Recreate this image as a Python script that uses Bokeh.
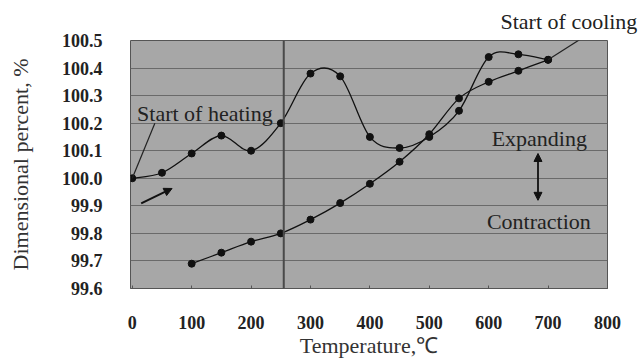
from bokeh.plotting import figure
from bokeh.models import (Range1d, FixedTicker, NumeralTickFormatter, Span, Label,
                          Arrow, NormalHead, Title)
from bokeh.embed import file_html
from bokeh.resources import INLINE

# ---- data ----
heat_temp = [0, 50, 100, 150, 200, 250, 300, 350, 400, 450, 500, 550, 600, 650, 700]
heat_pct = [100.00, 100.02, 100.09, 100.155, 100.10, 100.20, 100.38, 100.37,
            100.15, 100.11, 100.15, 100.245, 100.44, 100.45, 100.43]
cool_temp = [700, 650, 600, 550, 500, 450, 400, 350, 300, 250, 200, 150, 100]
cool_pct = [100.43, 100.39, 100.35, 100.29, 100.16, 100.06, 99.98, 99.91,
            99.85, 99.80, 99.77, 99.73, 99.69]
x_ticks = [0, 100, 200, 300, 400, 500, 600, 700, 800]
y_ticks = [99.6, 99.7, 99.8, 99.9, 100.0, 100.1, 100.2, 100.3, 100.4, 100.5]
ref_temp = 255  # vertical reference line

# annotation anchors (data units)
heat_note = ("Start of heating", 8, 100.235)
heat_leader_end = (38, 100.20)
cool_note_text = "Start of cooling"
cool_leader_end = (769, 100.525)
expand_note = ("Expanding", 605, 100.144)
contract_note = ("Contraction", 597, 99.843)
updown_x, updown_lo, updown_hi = 683, 99.92, 100.09
dir_arrow = (15, 99.909, 67, 99.963)

SERIF = "Liberation Serif"


def smooth(xs, ys):
    """Catmull-Rom style bezier segments through the data points."""
    n = len(xs)
    px = [xs[0]] + list(xs) + [xs[-1]]
    py = [ys[0]] + list(ys) + [ys[-1]]
    seg = dict(x0=[], y0=[], x1=[], y1=[], cx0=[], cy0=[], cx1=[], cy1=[])
    for i in range(n - 1):
        x_a, y_a = px[i], py[i]
        x_b, y_b = px[i + 1], py[i + 1]
        x_c, y_c = px[i + 2], py[i + 2]
        x_d, y_d = px[i + 3], py[i + 3]
        seg["x0"].append(x_b); seg["y0"].append(y_b)
        seg["x1"].append(x_c); seg["y1"].append(y_c)
        seg["cx0"].append(x_b + (x_c - x_a) / 6.0)
        seg["cy0"].append(y_b + (y_c - y_a) / 6.0)
        seg["cx1"].append(x_c - (x_d - x_b) / 6.0)
        seg["cy1"].append(y_c - (y_d - y_b) / 6.0)
    return seg


p = figure(width=644, height=363, output_backend="svg", toolbar_location=None,
           x_range=Range1d(-3, 800), y_range=Range1d(99.6, 100.5),
           min_border_left=130, min_border_right=37, min_border_top=40,
           min_border_bottom=75)

p.background_fill_color = "#a7a7a7"
p.border_fill_color = "white"
p.outline_line_color = "#555555"
p.outline_line_width = 1

p.xgrid.grid_line_color = None
p.ygrid.grid_line_color = "#6a6a6a"
p.ygrid.grid_line_width = 1

p.xaxis.ticker = FixedTicker(ticks=x_ticks)
p.yaxis.ticker = FixedTicker(ticks=y_ticks)
p.yaxis.formatter = NumeralTickFormatter(format="0.0")

for ax in (p.xaxis, p.yaxis):
    ax.major_label_text_font = SERIF
    ax.major_label_text_font_size = "18px"
    ax.major_label_text_font_style = "bold"
    ax.major_label_text_color = "#222222"
    ax.axis_label_text_font = SERIF
    ax.axis_label_text_font_size = "22px"
    ax.axis_label_text_font_style = "normal"
    ax.axis_label_text_color = "#333333"
    ax.minor_tick_line_color = None
    ax.major_tick_out = 0

p.yaxis.axis_line_color = None
p.yaxis.major_tick_line_color = None
p.yaxis.major_label_standoff = 28
p.yaxis.axis_label_standoff = 26
p.yaxis.axis_label = "Dimensional percent, %"

p.xaxis.axis_line_color = "#555555"
p.xaxis.major_tick_in = 3
p.xaxis.major_tick_line_color = "#555555"
p.xaxis.major_label_standoff = 27
p.xaxis.axis_label_standoff = 1
p.xaxis.axis_label = "Temperature,\u2103"

p.add_layout(Span(location=ref_temp, dimension="height", line_color="#4a4a4a",
                  line_width=2))

# curves
hs = smooth(heat_temp, heat_pct)
p.bezier(x0=hs["x0"], y0=hs["y0"], x1=hs["x1"], y1=hs["y1"], cx0=hs["cx0"],
         cy0=hs["cy0"], cx1=hs["cx1"], cy1=hs["cy1"], line_color="#111111",
         line_width=1.3)
cs = smooth(cool_temp, cool_pct)
p.bezier(x0=cs["x0"], y0=cs["y0"], x1=cs["x1"], y1=cs["y1"], cx0=cs["cx0"],
         cy0=cs["cy0"], cx1=cs["cx1"], cy1=cs["cy1"], line_color="#111111",
         line_width=1.3)
p.scatter(heat_temp, heat_pct, marker="circle", size=7, color="#111111")
p.scatter(cool_temp, cool_pct, marker="circle", size=7, color="#111111")

# leaders
p.add_layout(Arrow(end=None, x_start=heat_temp[0], y_start=heat_pct[0],
                   x_end=heat_leader_end[0], y_end=heat_leader_end[1],
                   line_color="#222222", line_width=1.2))
p.add_layout(Arrow(end=None, x_start=cool_temp[0], y_start=cool_pct[0],
                   x_end=cool_leader_end[0], y_end=cool_leader_end[1],
                   line_color="#222222", line_width=1.2))

for txt, lx, ly in (heat_note, expand_note, contract_note):
    p.add_layout(Label(x=lx, y=ly, text=txt, text_font=SERIF,
                       text_font_size="22px", text_font_style="normal",
                       text_baseline="middle", text_color="#222222"))

p.add_layout(Title(text=cool_note_text, align="left", offset=370,
                   vertical_align="bottom", standoff=13,
                   text_font=SERIF, text_font_size="22px",
                   text_font_style="normal", text_color="#222222"), "above")

p.add_layout(Arrow(start=NormalHead(size=8, fill_color="#111111", line_color="#111111"),
                   end=NormalHead(size=8, fill_color="#111111", line_color="#111111"),
                   x_start=updown_x, y_start=updown_lo, x_end=updown_x, y_end=updown_hi,
                   line_color="#111111", line_width=1.8))
p.add_layout(Arrow(end=NormalHead(size=8, fill_color="#111111", line_color="#111111"),
                   x_start=dir_arrow[0], y_start=dir_arrow[1],
                   x_end=dir_arrow[2], y_end=dir_arrow[3],
                   line_color="#111111", line_width=2))

open("out.html", "w").write(file_html(p, INLINE))
